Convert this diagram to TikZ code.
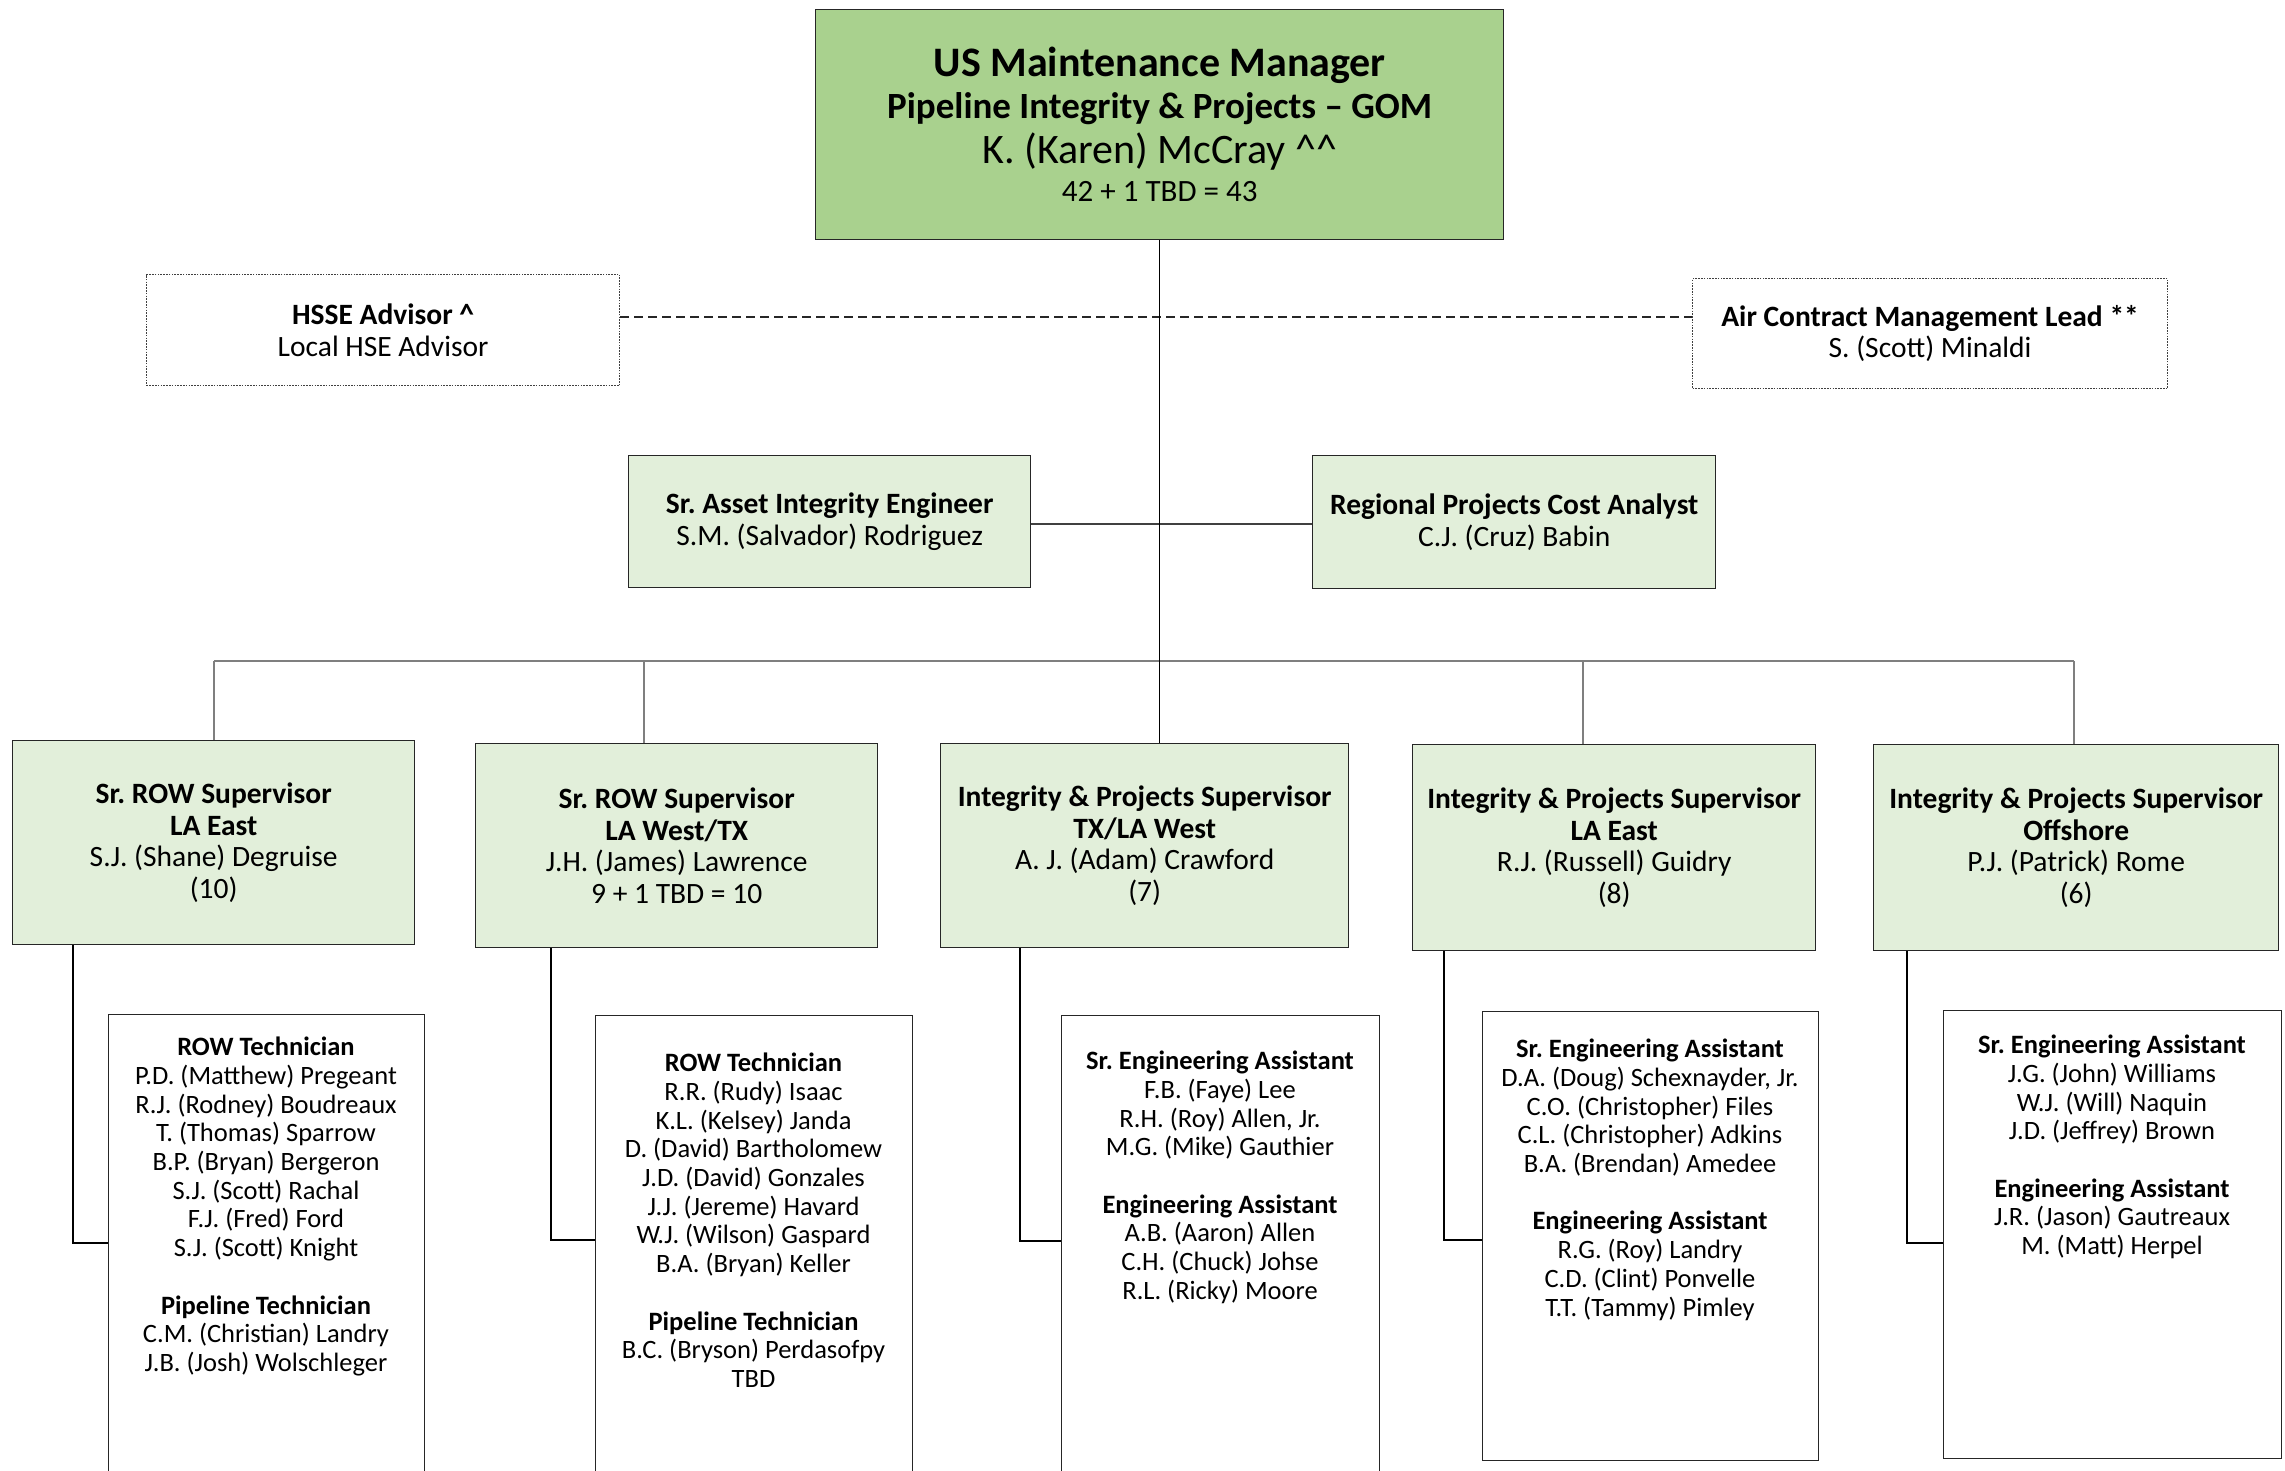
\documentclass[tikz,border=0pt]{standalone}
\usepackage{fontspec}
\setmainfont{Carlito}
\frenchspacing
\definecolor{mgrgreen}{HTML}{A9D18E}
\definecolor{lightgreen}{HTML}{E2EFDA}
\definecolor{edge}{HTML}{262626}
\definecolor{busgray}{HTML}{7F7F7F}
\definecolor{darkline}{HTML}{404040}
\begin{document}
\begin{tikzpicture}[x=1pt,y=-1pt,
  basebox/.style={anchor=north west, inner sep=0pt, align=center, line width=1.4pt, draw=edge},
  mgrbox/.style={basebox, fill=mgrgreen, font=\fontsize{42}{42}\selectfont},
  supbox/.style={basebox, fill=lightgreen, font=\fontsize{29.5}{31.7}\selectfont},
  dotbox/.style={basebox, fill=white, draw=black!75, line width=1.2pt, dash pattern=on 1.6pt off 1.2pt, font=\fontsize{29.5}{31.7}\selectfont},
  subbox/.style={basebox, fill=white},
  subtext/.style={anchor=north, inner sep=0pt, align=center, font=\fontsize{26.5}{28.7}\selectfont},
  conn/.style={line width=1.3pt, draw=black},
  busconn/.style={line width=1.4pt, draw=busgray},
  midconn/.style={line width=1.4pt, draw=darkline},
  dashconn/.style={line width=1.8pt, draw=black!85, dash pattern=on 9pt off 5pt}]
\useasboundingbox (0,0) rectangle (2285,1470);
\clip (0,0) rectangle (2285,1470);

% ---------- boxes ----------
\node[mgrbox, minimum width=688pt, minimum height=230pt] (mgr) at (815,9)
  {{\bfseries US Maintenance Manager}\\
   {\fontsize{37}{40}\selectfont\bfseries Pipeline Integrity \& Projects -- GOM}\\[3pt]
   K. (Karen) McCray \^{}\^{}\\[-4pt]
   {\fontsize{31}{34}\selectfont 42 + 1 TBD = 43}};

\node[dotbox, minimum width=473pt, minimum height=111pt] (hsse) at (146,274)
  {\textbf{HSSE Advisor \^{}}\\ Local HSE Advisor};
\node[dotbox, minimum width=475pt, minimum height=110pt] (air) at (1692,278)
  {\textbf{Air Contract Management Lead **}\\ S. (Scott) Minaldi};

\node[supbox, minimum width=402pt, minimum height=132pt] (asset) at (628,455)
  {\textbf{Sr. Asset Integrity Engineer}\\ S.M. (Salvador) Rodriguez};
\node[supbox, minimum width=403pt, minimum height=133pt] (cost) at (1312,455)
  {\textbf{Regional Projects Cost Analyst}\\ C.J. (Cruz) Babin};

\node[supbox, minimum width=402pt, minimum height=204pt] (sup1) at (12,740)
  {\textbf{Sr. ROW Supervisor}\\ \textbf{LA East}\\ S.J. (Shane) Degruise\\ (10)};
\node[supbox, minimum width=402pt, minimum height=204pt] (sup2) at (475,743)
  {\textbf{Sr. ROW Supervisor}\\ \textbf{LA West/TX}\\ J.H. (James) Lawrence\\ 9 + 1 TBD = 10};
\node[supbox, minimum width=408pt, minimum height=204pt] (sup3) at (940,743)
  {\textbf{Integrity \& Projects Supervisor}\\ \textbf{TX/LA West}\\ A. J. (Adam) Crawford\\ (7)};
\node[supbox, minimum width=403pt, minimum height=206pt] (sup4) at (1412,744)
  {\textbf{Integrity \& Projects Supervisor}\\ \textbf{LA East}\\ R.J. (Russell) Guidry\\ (8)};
\node[supbox, minimum width=405pt, minimum height=206pt] (sup5) at (1873,744)
  {\textbf{Integrity \& Projects Supervisor}\\ \textbf{Offshore}\\ P.J. (Patrick) Rome\\ (6)};

\node[subbox, minimum width=316pt, minimum height=490pt] (sub1) at (108,1014) {};
\node[subbox, minimum width=317pt, minimum height=490pt] (sub2) at (595,1015) {};
\node[subbox, minimum width=318pt, minimum height=490pt] (sub3) at (1061,1015) {};
\node[subbox, minimum width=336pt, minimum height=449pt] (sub4) at (1482,1011) {};
\node[subbox, minimum width=338pt, minimum height=448pt] (sub5) at (1943,1010) {};

\node[subtext] (t1) at (266,1035.5)
  {\rule{0pt}{20pt}\textbf{ROW Technician}\\ P.D. (Matthew) Pregeant\\ R.J. (Rodney) Boudreaux\\
   T. (Thomas) Sparrow\\ B.P. (Bryan) Bergeron\\ S.J. (Scott) Rachal\\ F.J. (Fred) Ford\\
   S.J. (Scott) Knight\\[28.7pt] \textbf{Pipeline Technician}\\ C.M. (Christian) Landry\\ J.B. (Josh) Wolschleger};
\node[subtext] (t2) at (753.5,1051.5)
  {\rule{0pt}{20pt}\textbf{ROW Technician}\\ R.R. (Rudy) Isaac\\ K.L. (Kelsey) Janda\\
   D. (David) Bartholomew\\ J.D. (David) Gonzales\\ J.J. (Jereme) Havard\\ W.J. (Wilson) Gaspard\\
   B.A. (Bryan) Keller\\[28.7pt] \textbf{Pipeline Technician}\\ B.C. (Bryson) Perdasofpy\\ TBD};
\node[subtext] (t3) at (1220,1049.5)
  {\rule{0pt}{20pt}\textbf{Sr. Engineering Assistant}\\ F.B. (Faye) Lee\\ R.H. (Roy) Allen, Jr.\\
   M.G. (Mike) Gauthier\\[28.7pt] \textbf{Engineering Assistant}\\ A.B. (Aaron) Allen\\
   C.H. (Chuck) Johse\\ R.L. (Ricky) Moore};
\node[subtext] (t4) at (1650,1037.5)
  {\rule{0pt}{20pt}\textbf{Sr. Engineering Assistant}\\ D.A. (Doug) Schexnayder, Jr.\\
   C.O. (Christopher) Files\\ C.L. (Christopher) Adkins\\ B.A. (Brendan) Amedee\\[28.7pt]
   \textbf{Engineering Assistant}\\ R.G. (Roy) Landry\\ C.D. (Clint) Ponvelle\\ T.T. (Tammy) Pimley};
\node[subtext] (t5) at (2112,1033.5)
  {\rule{0pt}{20pt}\textbf{Sr. Engineering Assistant}\\ J.G. (John) Williams\\ W.J. (Will) Naquin\\
   J.D. (Jeffrey) Brown\\[28.7pt] \textbf{Engineering Assistant}\\ J.R. (Jason) Gautreaux\\
   M. (Matt) Herpel};

% ---------- connectors ----------
\coordinate (busL) at (214,661);
\coordinate (busR) at (2074,661);
\coordinate (d2) at (644,661);
\coordinate (d4) at (1583,661);

\draw[dashconn] ([yshift=-43pt]hsse.north east) -- ([yshift=-43pt]hsse.north east -| air.west);
\draw[midconn] ([yshift=-69pt]asset.north east) -- ([yshift=-69pt]asset.north east -| cost.west);
\draw[busconn] (busL) -- (busR);
\draw[busconn] (busL) -- (busL |- sup1.north);
\draw[busconn] (d2) -- (d2 |- sup2.north);
\draw[busconn] (d4) -- (d4 |- sup4.north);
\draw[busconn] (busR) -- (busR |- sup5.north);
\draw[conn] (mgr.south) -- (mgr.south |- sup3.north);

\draw[conn] ([xshift=61pt]sup1.south west) |- ([yshift=-229pt]sub1.north west);
\draw[conn] ([xshift=76pt]sup2.south west) |- ([yshift=-225pt]sub2.north west);
\draw[conn] ([xshift=80pt]sup3.south west) |- ([yshift=-226pt]sub3.north west);
\draw[conn] ([xshift=32pt]sup4.south west) |- ([yshift=-229pt]sub4.north west);
\draw[conn] ([xshift=34pt]sup5.south west) |- ([yshift=-233pt]sub5.north west);
\end{tikzpicture}
\end{document}
